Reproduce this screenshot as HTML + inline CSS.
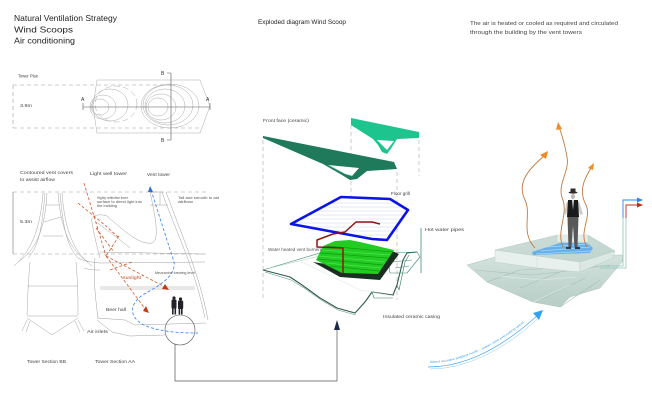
<!DOCTYPE html>
<html><head><meta charset="utf-8"><style>
html,body{margin:0;padding:0;background:#fff}
svg{display:block}
text{font-family:"Liberation Sans",sans-serif}
</style></head><body>
<svg width="652" height="405" viewBox="0 0 652 405" xmlns="http://www.w3.org/2000/svg">
<defs>
<linearGradient id="cas" x1="0" y1="0" x2="0" y2="1"><stop offset="0" stop-color="#d3e2dd"/><stop offset="1" stop-color="#b7cdc6"/></linearGradient>
<linearGradient id="top" x1="0" y1="0" x2="1" y2="1"><stop offset="0" stop-color="#cfdeda"/><stop offset="1" stop-color="#bfd3cd"/></linearGradient>
</defs>
<rect width="652" height="405" fill="#fff"/>

<!-- Titles -->
<g fill="#222" font-size="8.3">
<text x="14" y="21" textLength="103" lengthAdjust="spacingAndGlyphs">Natural Ventilation Strategy</text>
<text x="14" y="32.3" textLength="59" lengthAdjust="spacingAndGlyphs">Wind Scoops</text>
<text x="14" y="43.5" textLength="61" lengthAdjust="spacingAndGlyphs">Air conditioning</text>
</g>
<text x="258" y="24" font-size="6.3" fill="#222" textLength="88" lengthAdjust="spacingAndGlyphs">Exploded diagram Wind Scoop</text>
<g fill="#444" font-size="5.6">
<text x="470" y="25" textLength="148" lengthAdjust="spacingAndGlyphs">The air is heated or cooled as required and circulated</text>
<text x="470" y="34" textLength="112" lengthAdjust="spacingAndGlyphs">through the building by the vent towers</text>
</g>

<!-- Tower plan -->
<text x="18" y="77.5" font-size="4.2" fill="#444" textLength="20" lengthAdjust="spacingAndGlyphs">Tower Plan</text>
<text x="20" y="107" font-size="4.2" fill="#444" textLength="12" lengthAdjust="spacingAndGlyphs">3.9m</text>
<g fill="none" stroke="#9a9a9a" stroke-width="0.6" stroke-dasharray="4,3">
<path d="M13,85 L175,85 M13,128 L200,128 M13,85 L13,128"/>
</g>
<g fill="none" stroke="#aaa" stroke-width="0.5">
<path d="M97,80 L200,80 L210,106 L200,133 L97,133 L93,106 Z"/>
<ellipse cx="100" cy="107" rx="9" ry="8"/>
<ellipse cx="103" cy="107" rx="13" ry="12"/>
<ellipse cx="110" cy="105" rx="18" ry="16"/>
<ellipse cx="116" cy="104" rx="21" ry="18" stroke-dasharray="6,3"/>
<ellipse cx="158" cy="107" rx="10" ry="9"/>
<ellipse cx="161" cy="107" rx="15" ry="13"/>
<ellipse cx="165" cy="106" rx="20" ry="17"/>
<ellipse cx="168" cy="105" rx="25" ry="20"/>
<ellipse cx="170" cy="106" rx="29" ry="22"/>
</g>
<g stroke="#555" stroke-width="0.6" fill="none">
<path d="M83,103 L83,110 M83,107 L210,107 M210,103 L210,110"/>
<path d="M171,73 L171,140 M167,73 L171,73 M167,140 L171,140"/>
</g>
<g font-size="5" fill="#333">
<text x="81" y="101">A</text><text x="206" y="101">A</text>
<text x="161" y="75">B</text><text x="161" y="142">B</text>
</g>

<!-- Sections labels -->
<g font-size="4.6" fill="#444">
<text x="20" y="174" textLength="53" lengthAdjust="spacingAndGlyphs">Contoured vent covers</text>
<text x="20" y="181" textLength="35" lengthAdjust="spacingAndGlyphs">to assist airflow</text>
<text x="90" y="175" textLength="37" lengthAdjust="spacingAndGlyphs">Light well tower</text>
<text x="147" y="176" textLength="23" lengthAdjust="spacingAndGlyphs">Vent tower</text>
<text x="20" y="223" textLength="12" lengthAdjust="spacingAndGlyphs">5.3m</text>
<text x="106" y="311" textLength="20" lengthAdjust="spacingAndGlyphs">Beer hall</text>
<text x="87" y="333" textLength="21" lengthAdjust="spacingAndGlyphs">Air inlets</text>
<text x="27" y="363" textLength="39" lengthAdjust="spacingAndGlyphs">Tower Section BB</text>
<text x="95" y="363" textLength="40" lengthAdjust="spacingAndGlyphs">Tower Section AA</text>
</g>
<g font-size="3.4" fill="#555">
<text x="97" y="199" textLength="31" lengthAdjust="spacingAndGlyphs">Highly reflective inner</text>
<text x="97" y="203" textLength="45" lengthAdjust="spacingAndGlyphs">surface to direct light into</text>
<text x="97" y="207" textLength="20" lengthAdjust="spacingAndGlyphs">the building</text>
<text x="178" y="199" textLength="41" lengthAdjust="spacingAndGlyphs">Tall and smooth to aid</text>
<text x="178" y="203" textLength="15" lengthAdjust="spacingAndGlyphs">airflow</text>
<text x="155" y="274" textLength="40" lengthAdjust="spacingAndGlyphs">Mezzanine brewing level</text>
</g>
<text x="123" y="279" font-size="4.8" fill="#c04a22" textLength="18" lengthAdjust="spacingAndGlyphs">sunlight</text>

<g fill="none" stroke="#9a9a9a" stroke-width="0.6">
<path d="M13,192 L207,192 M13,254 L207,254" stroke-dasharray="4,3"/>
<path d="M13,192 L13,254" stroke="#777"/>
</g>

<!-- Section BB linework -->
<g fill="none" stroke="#a5a5a5" stroke-width="0.5">
<path d="M45,193 C42,225 40,245 28,258"/>
<path d="M60,193 C63,225 66,245 78,258"/>
<path d="M47,193 C45,230 36,250 18,262"/>
<path d="M58,193 C61,230 70,250 88,262"/>
<path d="M43,193 C40,232 30,252 14,266"/>
<path d="M62,193 C65,232 74,252 92,266"/>
<path d="M45,205 L60,205 M44,222 L61,217 M43,236 L63,236"/>
<path d="M30,262 C29,275 28,285 27,315 M76,262 C77,275 78,285 78,315"/>
<path d="M27,286 L78,286 M27,316 L78,316"/>
<path d="M27,318 L52,335 L78,318 M27,320 L22,331 M30,321 L26,332 M78,320 L84,331 M75,321 L80,332"/>
</g>

<!-- Section AA linework -->
<g fill="none" stroke="#a0a0a0" stroke-width="0.5">
<path d="M92,222 C90,216 98,213 107,216 C125,232 140,245 152,243 C158,240 158,228 150,192"/>
<path d="M92,222 C95,240 98,250 100,258"/>
<path d="M96,222 C110,232 118,238 130,248"/>
<path d="M150,192 L162,192 C175,230 195,268 205,318"/>
<path d="M166,192 C182,236 200,276 208,320"/>
<path d="M150,205 L168,205"/>
<path d="M160,192 L160,205"/>
<path d="M95,258 C93,275 95,295 98,318"/>
<path d="M100,252 L203,254 M100,263 L205,262"/>
<path d="M100,287 L195,287 M100,289 L195,289"/>
<path d="M97,318 L125,320 L135,325 L206,323"/>
<path d="M97,320 L112,332 L130,336 L165,335"/>
<path d="M78,258 C86,262 92,262 100,263 M84,268 C90,270 95,270 100,270"/>
</g>

<!-- Orange rays -->
<g fill="none" stroke="#d0582c" stroke-width="0.8" stroke-dasharray="3,2">
<path d="M84,183 L106,256"/>
<path d="M78,203 L106,226 L119,238"/>
<path d="M96,228 L114,252"/>
<path d="M119,236 L106,256"/>
<path d="M106,256 L165,287"/>
<path d="M106,256 L146,310"/>
<path d="M110,270 L132,262"/>
</g>
<polygon points="169,290 162,289 165,284" fill="#c03a10"/>
<polygon points="149,313 143,311 146,306" fill="#c03a10"/>

<!-- Blue airflow -->
<g fill="none" stroke="#4a8ef0" stroke-width="0.9" stroke-dasharray="3,2">
<path d="M151,190 L174,262 C176,276 160,285 146,293 C128,303 128,318 146,326 C162,332 180,333 198,333"/>
</g>
<polygon points="150,186 153,192 148,192" fill="#2a6fe0"/>

<!-- People -->
<g fill="#24202c">
<circle cx="174" cy="298" r="1.6"/><rect x="171.5" y="299.5" width="5" height="9" rx="1"/><rect x="172" y="308" width="1.6" height="6.5"/><rect x="174.5" y="308" width="1.6" height="6.5"/>
<circle cx="180.5" cy="299" r="1.6"/><rect x="178" y="300.5" width="5.2" height="8.5" rx="1"/><rect x="178.6" y="308" width="1.6" height="6.5"/><rect x="181" y="308" width="1.6" height="6.5"/>
</g>

<!-- Zoom circle and connector -->
<circle cx="180" cy="330" r="15" fill="none" stroke="#555" stroke-width="0.6"/>
<path d="M175,344 L175,381 L337,381 L337,329" fill="none" stroke="#555" stroke-width="0.7"/>
<polygon points="337,320 334,330 340,330" fill="#1c2a48"/>

<!-- Exploded diagram -->
<g fill="none" stroke="#aaa" stroke-width="0.6" stroke-dasharray="4,3">
<path d="M263,140 L263,300"/>
<path d="M351,125 L351,232"/>
<path d="M397,172 L397,300"/>
<path d="M419,140 L419,176"/>
</g>
<text x="263" y="122" font-size="4.6" fill="#444" textLength="46" lengthAdjust="spacingAndGlyphs">Front face (ceramic)</text>
<!-- dark green face -->
<polygon points="263,136 394,162 397,169 367,171 357,179 350,180 342,175 323,164 263,138" fill="#1e7a5b"/>
<polygon points="328,165 359,168 352,176 345,174" fill="#fff"/>
<path d="M328,165 L345,174 L352,176" fill="none" stroke="#4fbf98" stroke-width="0.6"/>
<!-- light green face -->
<polygon points="351,118 419,132 419,138 397,139 392,147 387,154 382,152 378,145 373,139 351,125" fill="#1dc48e"/>
<polygon points="377,140 394,141 387,150" fill="#fff"/>

<text x="391" y="195" font-size="4.6" fill="#444" textLength="19" lengthAdjust="spacingAndGlyphs">Floor grill</text>
<!-- floor grill -->
<g>
<polygon points="291,224 341,197 390,199 408,210 387,240 372,239" fill="#fff"/>
<g stroke="#b8c4f0" stroke-width="0.4">
<path d="M330,203 L395,203 M322,207 L400,207 M314,211 L405,211 M306,215 L403,215 M299,219 L400,219 M295,223 L397,223 M305,227 L394,227 M325,231 L391,231 M350,235 L389,235"/>
</g>
<polygon points="291,224 341,197 390,199 408,210 387,240 372,239" fill="none" stroke="#0a14e8" stroke-width="2.6" stroke-linejoin="round"/>
</g>

<!-- casing -->
<g fill="none" stroke-linejoin="round">
<path d="M263,270 L340,247" stroke="#3d8a6a" stroke-width="0.6"/>
<path d="M270,268 L345,250" stroke="#9fc7b8" stroke-width="0.4"/>
<path d="M263,270 L290,277 L302,285 L320,298 L337,308 L355,313 L365,302 L372,292 L393,295 L397,285 L403,260 L407,253 L417,252" stroke="#2f5a4c" stroke-width="1.1"/>
<path d="M265,272 L291,280 L304,288 L321,300 L338,310 L356,315" stroke="#4e8f78" stroke-width="0.5"/>
<path d="M372,292 L374,298 L393,298 M397,285 L399,290 L405,262 L409,255" stroke="#3a7a64" stroke-width="0.6"/>
<path d="M387,253 L417,252 L420,257 L407,273 L390,273 Z" stroke="#3c8a6c" stroke-width="0.6"/>
<path d="M392,262 L412,260 M395,268 L409,266" stroke="#3c8a6c" stroke-width="0.5"/>
<path d="M302,262 L360,290 L395,296" stroke="#c6dcd3" stroke-width="0.4"/>
</g>

<!-- heater -->
<polygon points="313,262 340,277 380,280 399,254 392,251 352,268" fill="#1a2e22"/>
<polygon points="316,260 323,246 335,241 350,240 360,242 394,250 378,274 342,273" fill="#22cc22"/>
<g fill="none" stroke="#129a12" stroke-width="0.7">
<path d="M320,253 L388,258"/>
<path d="M318,259 L383,265"/>
<path d="M327,246 L392,252"/>
<path d="M330,266 L379,271"/>
</g>
<g fill="none" stroke="#5ee85e" stroke-width="0.6">
<path d="M322,250 L390,255 M319,256 L385,262 M326,263 L381,268"/>
</g>
<!-- red pipe -->
<polyline points="380,224 372,222 356,222 345,232 333,234 317,240 317,247 343,248 343,273" fill="none" stroke="#8b1616" stroke-width="1.5" stroke-linejoin="round"/>

<text x="268" y="251" font-size="4.6" fill="#555" textLength="54" lengthAdjust="spacingAndGlyphs">Water heated vent burners</text>
<path d="M421,228 L421,273" stroke="#9cc8be" stroke-width="1.6"/>
<text x="425" y="231" font-size="4.6" fill="#444" textLength="39" lengthAdjust="spacingAndGlyphs">Hot water pipes</text>
<text x="383" y="318" font-size="4.6" fill="#444" textLength="57" lengthAdjust="spacingAndGlyphs">Insulated ceramic casing</text>

<!-- Right 3D -->
<polygon points="467,265 495,257 623,255 622,262 600,288 570,297 560,307 533,302 487,282" fill="url(#cas)" stroke="#a9c2ba" stroke-width="0.5"/>
<g fill="none" stroke="#a6bfb7" stroke-width="0.6">
<path d="M487,282 L520,270 L598,266 M520,288 L560,272 L610,265 M540,300 L585,278 M560,307 L600,280 M475,270 L530,275 L560,272"/>
</g>
<g fill="none" stroke="#e6f0ed" stroke-width="0.6">
<path d="M500,276 L540,280 L575,277 M533,302 L570,285"/>
</g>
<!-- box -->
<polygon points="495,250 557,235 588,235 615,251 580,262" fill="url(#top)" stroke="#b0c6bf" stroke-width="0.4"/>
<polygon points="495,250 580,262 580,272 537,268 495,262" fill="#e8f0ee" stroke="#b5c9c2" stroke-width="0.4"/>
<polygon points="580,262 615,251 613,258 580,272" fill="#dbe7e3" stroke="#b5c9c2" stroke-width="0.4"/>
<path d="M537,256 L537,268" stroke="#c8d8d3" stroke-width="0.5"/>
<path d="M557,235 L557,242 L588,242 L588,235" fill="#e3ecea" stroke="#b8ccc5" stroke-width="0.4"/>
<!-- blue grate -->
<polygon points="532,252 560,243 587,243 593,248 590,253 533,255" fill="#66b0ea"/>
<g stroke="#a9d8f6" stroke-width="0.8">
<path d="M540,251 L590,247 M536,254 L591,251 M547,247 L588,244"/>
</g>

<!-- pipes right -->
<g fill="none" stroke="#8ec4b8" stroke-width="0.8">
<path d="M623,218 L623,266 L600,266 M626,218 L626,268 L600,268"/>
</g>
<path d="M623,218 L623,200 L638,200" fill="none" stroke="#2a86f0" stroke-width="0.9"/>
<polygon points="643,200 637,197.5 637,202.5" fill="#2a86f0"/>
<path d="M626,218 L626,205 L638,205" fill="none" stroke="#b8321c" stroke-width="0.9"/>
<polygon points="643,205 637,202.5 637,207.5" fill="#b8321c"/>

<!-- orange arrows -->
<g fill="none" stroke="#c07a40" stroke-width="0.9">
<path d="M535,248 C520,232 532,215 525,200 C516,182 530,168 544,156"/>
<path d="M563,247 C556,232 568,215 563,200 C556,185 570,172 567,157 C565,145 562,135 559,127"/>
<path d="M587,247 C578,232 592,218 586,205 C578,190 585,178 591,168"/>
</g>
<polygon points="548,151 540,155 546,159" fill="#f08a22"/>
<polygon points="558,122 556,130 562,129" fill="#f08a22"/>
<polygon points="594,163 588,168 593,170" fill="#f08a22"/>

<!-- man -->
<g>
<rect x="570.5" y="188.5" width="5" height="4" fill="#2c2c2c"/>
<ellipse cx="573" cy="192.5" rx="4.5" ry="1.1" fill="#2c2c2c"/>
<ellipse cx="573" cy="196.5" rx="2.1" ry="2.5" fill="#b9b9b9"/>
<path d="M567,201 L564,214 L566,215 L569,204 Z" fill="#ccc"/>
<path d="M579,201 L583,214 L580,215 L577,204 Z" fill="#ccc"/>
<polygon points="568,200 578,200 579,217 567,217" fill="#1a1a1a"/>
<polygon points="572,200 574,200 573,210" fill="#ddd"/>
<polygon points="567.5,217 578.5,217 577.5,247 574.5,247 573,226 571.5,247 568.5,247" fill="#585858"/>
<path d="M566,248 L571,248 M575,248 L580,248" stroke="#111" stroke-width="1.4"/>
</g>

<!-- blue curved arrow -->
<path id="wp" d="M430,363 Q481,362 538,311" fill="none"/>
<path d="M428,367 Q481,367 538,315" fill="none" stroke="#4aa8f2" stroke-width="0.7"/>
<path d="M430,369 Q483,369 540,317" fill="none" stroke="#8ccaf5" stroke-width="0.5"/>
<polygon points="543,310 533,313 539,320" fill="#30a2f0"/>
<text font-size="3" fill="#3a9ae8"><textPath href="#wp" textLength="104" lengthAdjust="spacingAndGlyphs">Wind scoops angled north - mean size prevailing wind</textPath></text>
</svg>
</body></html>
